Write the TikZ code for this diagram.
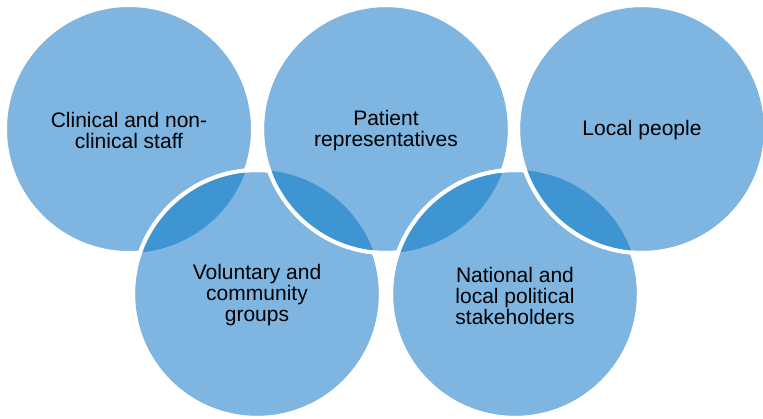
\documentclass[tikz,border=0pt]{standalone}
\usepackage{fontspec}
\setmainfont{Liberation Sans}
\definecolor{ringlight}{HTML}{7EB6E1}
\definecolor{ringdark}{HTML}{3F94D2}
\tikzset{
  ringfill/.style={fill=ringlight},
  ringedge/.style={draw=white,line width=4pt},
  lensfill/.style={fill=ringdark},
  ringlabel/.style={font=\fontsize{21}{21}\selectfont, align=center, text=black, inner sep=0pt, yshift=-1.5pt}
}
\begin{document}
\begin{tikzpicture}[x=1pt,y=-1pt]
\useasboundingbox (0,0) rectangle (763,418);
\coordinate (cTL) at (129,129);
\coordinate (cTM) at (386,129);
\coordinate (cTR) at (642,129);
\coordinate (cBL) at (257,294);
\coordinate (cBR) at (515,294);
\def\Rr{124pt}
% top-left
\path[ringfill,ringedge] (cTL) circle[radius=\Rr];
% bottom-left over top-left
\path[ringfill,ringedge] (cBL) circle[radius=\Rr];
\begin{scope}
  \clip (cTL) circle[radius=\Rr];
  \path[lensfill] (cBL) circle[radius=\Rr];
\end{scope}
\path[ringedge] (cBL) circle[radius=\Rr];
% top-middle over bottom-left
\path[ringfill,ringedge] (cTM) circle[radius=\Rr];
\begin{scope}
  \clip (cBL) circle[radius=\Rr];
  \path[lensfill] (cTM) circle[radius=\Rr];
\end{scope}
\path[ringedge] (cTM) circle[radius=\Rr];
% bottom-right over top-middle
\path[ringfill,ringedge] (cBR) circle[radius=\Rr];
\begin{scope}
  \clip (cTM) circle[radius=\Rr];
  \path[lensfill] (cBR) circle[radius=\Rr];
\end{scope}
\path[ringedge] (cBR) circle[radius=\Rr];
% top-right over bottom-right
\path[ringfill,ringedge] (cTR) circle[radius=\Rr];
\begin{scope}
  \clip (cBR) circle[radius=\Rr];
  \path[lensfill] (cTR) circle[radius=\Rr];
\end{scope}
\path[ringedge] (cTR) circle[radius=\Rr];
% labels
\node[ringlabel] (tTL) at (cTL) {Clinical and non-\\clinical staff};
\node[ringlabel] (tTM) at (cTM) {Patient\\representatives};
\node[ringlabel] (tTR) at (cTR) {Local people};
\node[ringlabel] (tBL) at (cBL) {Voluntary and\\community\\groups};
\node[ringlabel] (tBR) at (cBR) {National and\\local political\\stakeholders};
\end{tikzpicture}
\end{document}
